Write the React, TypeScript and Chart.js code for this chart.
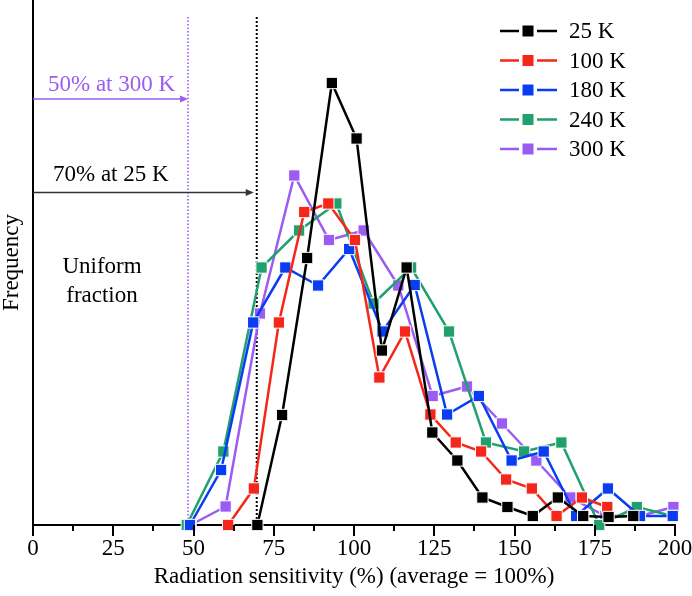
import React, { useEffect, useRef } from 'react';
import { Chart, registerables } from 'chart.js';

Chart.register(...registerables);

const FONT = '"Liberation Serif", "Times New Roman", serif';

const seriesLabels = ['25 K', '100 K', '180 K', '240 K', '300 K'];
const seriesColors = ['#000000', '#f5261a', '#0a3cf2', '#21a06e', '#9a5cf2'];

const x25 = [69.9, 77.6, 85.4, 93.1, 100.8, 108.7, 116.4, 124.4, 132.2, 140.0, 147.8, 155.7, 163.5, 171.4, 179.3, 187.0];
const y25 = [0, 22, 53.4, 88.4, 77.3, 34.9, 51.5, 18.5, 12.9, 5.5, 3.6, 1.8, 5.5, 1.8, 1.6, 1.8];

const x100 = [60.8, 68.8, 76.6, 84.5, 92.0, 100.3, 107.9, 115.9, 123.8, 131.7, 139.6, 147.4, 155.4, 163.1, 171.0, 178.9];
const y100 = [0, 7.3, 40.5, 62.6, 64.3, 57, 29.5, 38.7, 22.1, 16.5, 14.7, 9.1, 7.3, 1.8, 5.5, 3.6];

const x180 = [48.9, 58.6, 68.6, 78.6, 88.8, 98.5, 108.9, 118.9, 129.0, 138.9, 149.1, 159.1, 169.2, 179.1, 189.1, 199.3];
const y180 = [0, 11, 40.5, 51.5, 47.9, 55.2, 38.7, 48, 22.1, 25.8, 12.9, 14.7, 1.8, 7.3, 1.8, 1.8];

const x240 = [47.9, 59.3, 71.2, 82.9, 94.5, 106.1, 117.8, 129.6, 141.1, 153.0, 164.6, 176.4, 188.1, 199.3];
const y240 = [0, 14.7, 51.5, 58.9, 64.3, 44.3, 51.5, 38.7, 16.5, 14.7, 16.5, 0, 3.6, 1.8];

const x300 = [49.1, 60.0, 70.7, 81.4, 92.2, 103.0, 113.8, 124.5, 135.2, 146.1, 156.8, 167.4, 178.3, 189.1, 199.5];
const y300 = [0, 3.7, 42.3, 69.9, 57, 58.9, 47.9, 25.8, 27.7, 20.3, 12.9, 5.5, 1.8, 1.8, 3.6];

const seriesX = [x25, x100, x180, x240, x300];
const seriesY = [y25, y100, y180, y240, y300];

const xTickValues = [0, 25, 50, 75, 100, 125, 150, 175, 200];

// annotation values (in data units)
const cut300 = 48.3;
const cut25 = 69.7;
const cutTop = 101.6;
const arrow300Y = 85.2;
const arrow25Y = 66.5;

function drawArrow(ctx: CanvasRenderingContext2D, x0: number, x1: number, y: number, color: string) {
  ctx.save();
  ctx.strokeStyle = color;
  ctx.fillStyle = color;
  ctx.lineWidth = 1.5;
  ctx.beginPath();
  ctx.moveTo(x0, y);
  ctx.lineTo(x1 - 6, y);
  ctx.stroke();
  ctx.beginPath();
  ctx.moveTo(x1, y);
  ctx.lineTo(x1 - 8, y - 3.5);
  ctx.lineTo(x1 - 8, y + 3.5);
  ctx.closePath();
  ctx.fill();
  ctx.restore();
}

const decorPlugin = {
  id: 'decor',
  beforeDatasetsDraw(chart: any) {
    const { ctx, scales } = chart;
    const xs = scales.x;
    const ys = scales.y;
    const bottom = ys.getPixelForValue(0);
    const top = ys.getPixelForValue(cutTop);
    ctx.save();
    ctx.setLineDash([1.5, 2]);
    ctx.lineWidth = 1.6;
    ctx.strokeStyle = '#9a5cf2';
    const px300 = xs.getPixelForValue(cut300);
    ctx.beginPath();
    ctx.moveTo(px300, top);
    ctx.lineTo(px300, bottom);
    ctx.stroke();
    ctx.setLineDash([2, 2]);
    ctx.lineWidth = 2;
    ctx.strokeStyle = '#000000';
    const px25 = xs.getPixelForValue(cut25);
    ctx.beginPath();
    ctx.moveTo(px25, top);
    ctx.lineTo(px25, bottom);
    ctx.stroke();
    ctx.restore();

    const x0 = xs.getPixelForValue(0);
    drawArrow(ctx, x0, px300, ys.getPixelForValue(arrow300Y), '#9a5cf2');
    drawArrow(ctx, x0, px25 - 3, ys.getPixelForValue(arrow25Y), '#333333');

    ctx.save();
    ctx.font = `23px ${FONT}`;
    ctx.textBaseline = 'middle';
    ctx.textAlign = 'left';
    ctx.fillStyle = '#9a5cf2';
    ctx.fillText('50% at 300 K', 48, 85);
    ctx.fillStyle = '#000000';
    ctx.fillText('70% at 25 K', 53, 175);
    ctx.textAlign = 'center';
    ctx.fillText('Uniform', 102, 267);
    ctx.fillText('fraction', 102, 296);
    ctx.restore();
  },
  afterDraw(chart: any) {
    const { ctx, scales } = chart;
    const xs = scales.x;
    const axisY = chart.chartArea.bottom;
    ctx.save();
    ctx.strokeStyle = '#000000';
    ctx.lineWidth = 2;
    for (let v = 0; v <= 200; v += 12.5) {
      const px = Math.round(xs.getPixelForValue(v));
      const major = v % 25 === 0;
      ctx.beginPath();
      ctx.moveTo(px, axisY);
      ctx.lineTo(px, axisY + (major ? 11 : 6));
      ctx.stroke();
    }
    ctx.restore();

    const rowsY = [31, 60.5, 90, 119.5, 149];
    ctx.save();
    ctx.font = `23px ${FONT}`;
    ctx.textBaseline = 'middle';
    ctx.textAlign = 'left';
    seriesLabels.forEach((label, i) => {
      const y = rowsY[i];
      const c = seriesColors[i];
      ctx.strokeStyle = c;
      ctx.lineWidth = 2.5;
      ctx.beginPath();
      ctx.moveTo(500, y);
      ctx.lineTo(519, y);
      ctx.moveTo(537, y);
      ctx.lineTo(557, y);
      ctx.stroke();
      ctx.fillStyle = c;
      ctx.fillRect(522.5, y - 5.5, 11, 11);
      ctx.fillStyle = '#000000';
      ctx.fillText(label, 569, y + 1);
    });
    ctx.restore();
  },
};

export default function App() {
  const canvasRef = useRef<HTMLCanvasElement | null>(null);

  useEffect(() => {
    const canvas = canvasRef.current;
    if (!canvas) return;
    const datasets = seriesLabels.map((label, i) => ({
      label,
      data: seriesX[i].map((x, j) => ({ x, y: seriesY[i][j] })),
      borderColor: seriesColors[i],
      backgroundColor: seriesColors[i],
      borderWidth: 2.5,
      pointStyle: 'rect' as const,
      pointRadius: 8,
      pointBorderColor: '#ffffff',
      pointBorderWidth: 1,
      pointBackgroundColor: seriesColors[i],
      tension: 0,
      clip: false as const,
    }));
    const chart = new Chart(canvas, {
      type: 'line',
      data: { datasets },
      options: {
        responsive: false,
        animation: false,
        layout: { autoPadding: false, padding: { top: 0, right: 17, bottom: 0, left: 0 } },
        plugins: {
          legend: { display: false },
          tooltip: { enabled: false },
        },
        scales: {
          x: {
            type: 'linear',
            min: 0,
            max: 200,
            afterBuildTicks: (scale: any) => {
              scale.ticks = xTickValues.map((v) => ({ value: v }));
            },
            afterFit: (scale: any) => {
              scale.height = 71;
              scale.paddingLeft = 0;
              scale.paddingRight = 0;
            },
            ticks: {
              font: { family: FONT, size: 23 },
              color: '#000000',
              padding: 10,
              maxRotation: 0,
              autoSkip: false,
            },
            grid: { display: true, drawOnChartArea: false, drawTicks: false, tickLength: 0 },
            border: { display: true, color: '#000000', width: 2 },
            title: {
              display: true,
              text: 'Radiation sensitivity (%) (average = 100%)',
              font: { family: FONT, size: 23 },
              color: '#000000',
              padding: { top: 0, bottom: 5 },
            },
          },
          y: {
            type: 'linear',
            min: 0,
            max: 105,
            afterFit: (scale: any) => {
              scale.width = 33;
              scale.paddingTop = 0;
              scale.paddingBottom = 0;
            },
            ticks: { display: false },
            grid: { display: false },
            border: { display: true, color: '#000000', width: 2 },
            title: {
              display: true,
              text: 'Frequency',
              font: { family: FONT, size: 23, lineHeight: 1.0 },
              color: '#000000',
              padding: { top: 0, bottom: 0 },
            },
          },
        },
      },
      plugins: [decorPlugin],
    });
    return () => chart.destroy();
  }, []);

  return (
    <div style={{ position: 'fixed', left: 0, top: 0, width: 692, height: 596, background: '#ffffff' }}>
      <canvas ref={canvasRef} width={692} height={596} style={{ display: 'block' }} />
    </div>
  );
}
